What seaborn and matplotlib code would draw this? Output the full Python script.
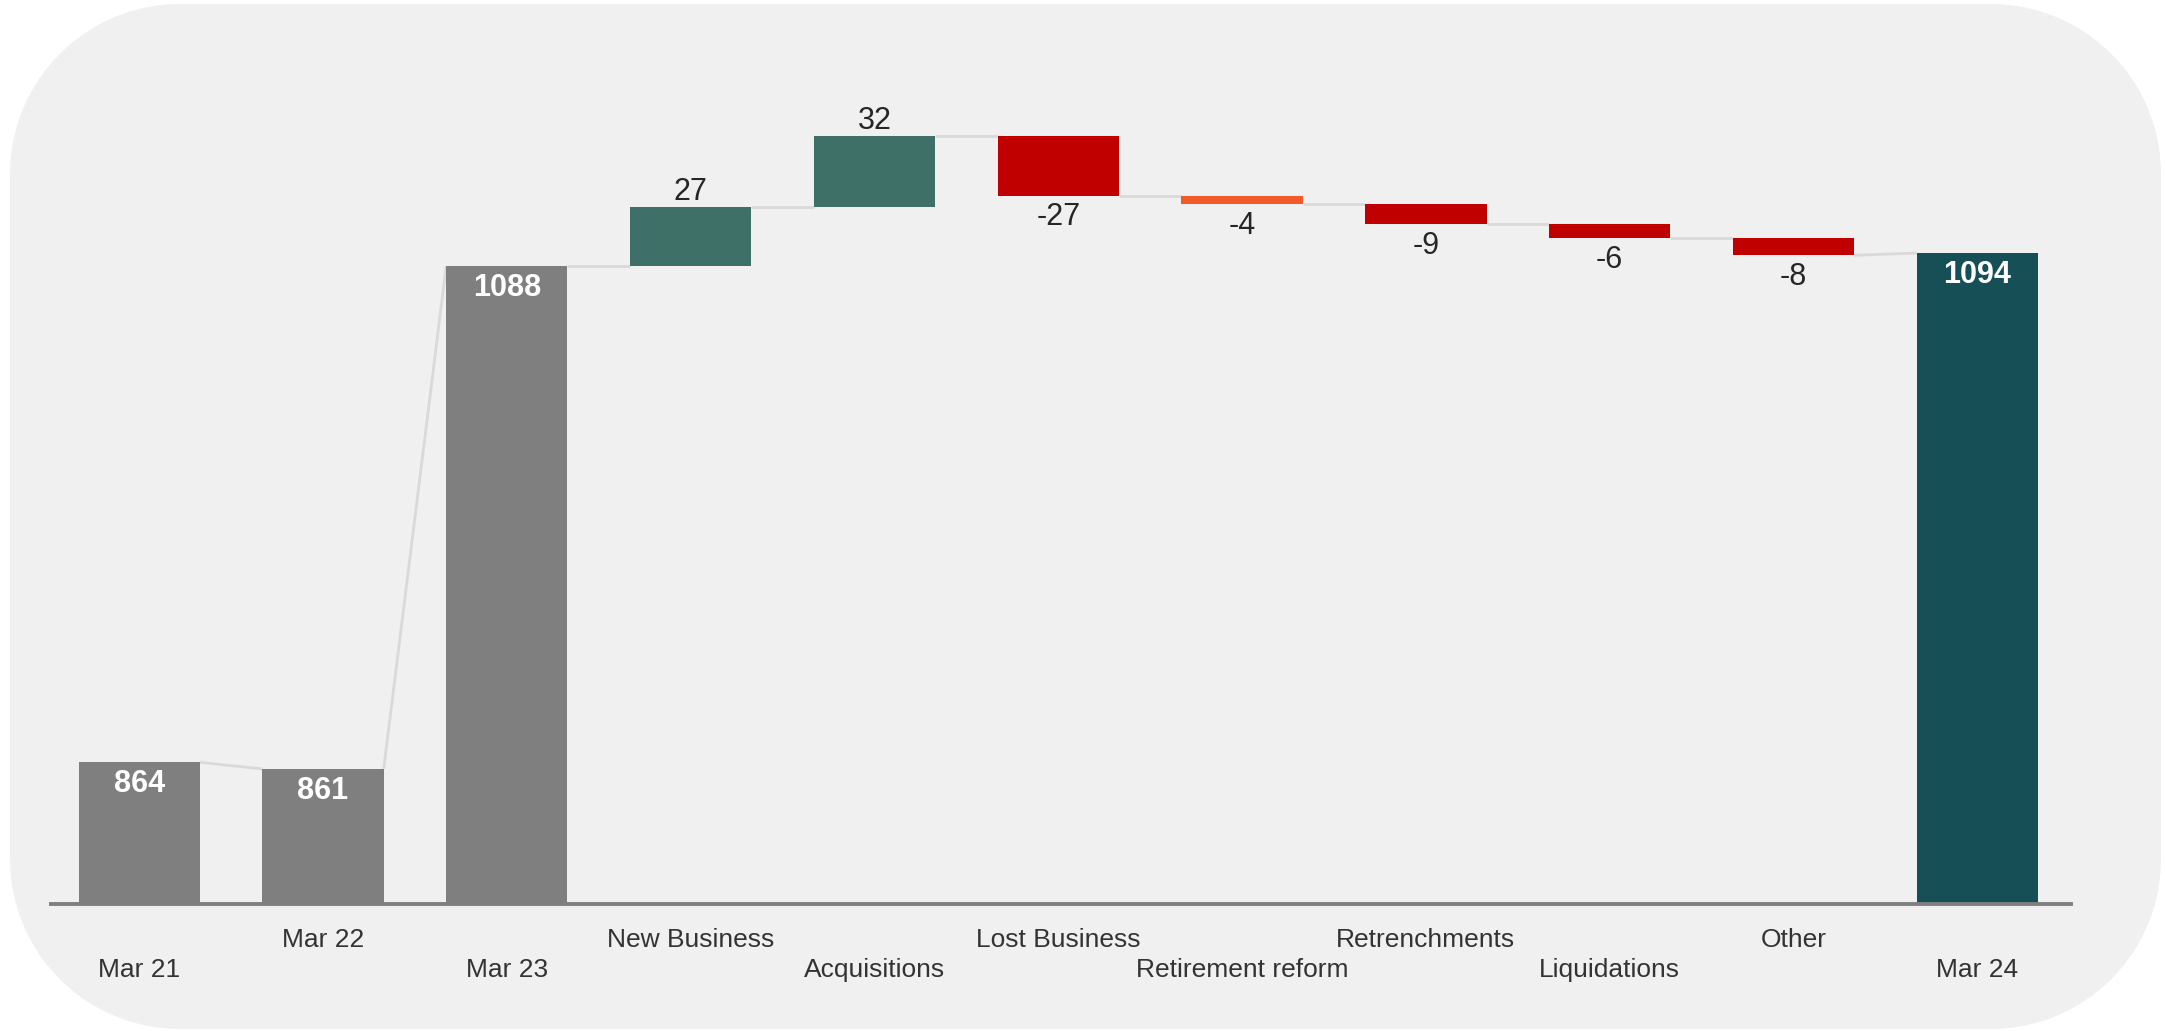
import numpy as np
import pandas as pd
import matplotlib
matplotlib.use("Agg")
import matplotlib.pyplot as plt
import seaborn as sns
from matplotlib.patches import Polygon
from matplotlib.transforms import IdentityTransform

# ---------------- data ----------------
categories = ["Mar 21", "Mar 22", "Mar 23", "New Business", "Acquisitions",
              "Lost Business", "Retirement reform", "Retrenchments",
              "Liquidations", "Other", "Mar 24"]
values = [864, 861, 1088, 27, 32, -27, -4, -9, -6, -8, 1094]
kinds = ["total", "total", "total", "delta", "delta", "delta", "delta",
         "delta", "delta", "delta", "total"]
bar_colors = ["#7f7f7f", "#7f7f7f", "#7f7f7f", "#3e7068", "#3e7068",
              "#c00000", "#f15a29", "#c00000", "#c00000", "#c00000", "#174f57"]

# ---------------- waterfall geometry from data ----------------
bottoms, heights, starts, ends = [], [], [], []
level = 0
for v, k in zip(values, kinds):
    if k == "total":
        bottoms.append(0)
        heights.append(v)
        starts.append(v)
        ends.append(v)
        level = v
    else:
        bottoms.append(level)
        heights.append(v)
        starts.append(level)
        level = level + v
        ends.append(level)

sns.set_theme(style="white")
plt.rcParams['font.family'] = ['Liberation Sans', 'DejaVu Sans']

W, H = 2165, 1031
fig = plt.figure(figsize=(W / 100, H / 100), dpi=100, facecolor="white")


def rounded_rect(x0, y0, x1, y1, r, n=40):
    pts = []
    corners = [(x1 - r, y1 - r, 0), (x0 + r, y1 - r, 90),
               (x0 + r, y0 + r, 180), (x1 - r, y0 + r, 270)]
    for cx, cy, a0 in corners:
        t = np.deg2rad(np.linspace(a0, a0 + 90, n))
        pts.extend(zip(cx + r * np.cos(t), cy + r * np.sin(t)))
    return np.array(pts)


bg = Polygon(rounded_rect(10, 2, 2161, 1027, 170), closed=True,
             transform=IdentityTransform(), facecolor="#f0f0f0",
             edgecolor="none", zorder=-5)
fig.patches.append(bg)

ax = fig.add_axes([51 / W, (H - 904) / H, 2020 / W, (904 - 60) / H])
ax.set_facecolor("none")
ax.set_zorder(1)

bar_w = 0.66
df = pd.DataFrame({"category": categories, "height": heights})
sns.barplot(data=df, x="category", y="height", order=categories,
            bottom=bottoms, width=bar_w, errorbar=None, linewidth=0,
            color="#7f7f7f", saturation=1, ax=ax, zorder=2)
for patch, c in zip(ax.patches, bar_colors):
    patch.set_facecolor(c)

# connectors
for i in range(len(categories) - 1):
    ax.plot([i + bar_w / 2, i + 1 - bar_w / 2], [ends[i], starts[i + 1]],
            color="#d9d9d9", lw=2, zorder=1, solid_capstyle="butt")

# value labels
for i, (v, k) in enumerate(zip(values, kinds)):
    if k == "total":
        ax.annotate(f"{v}", (i, v), xytext=(0, -5), textcoords="offset points",
                    ha="center", va="top", color="white", fontsize=22,
                    fontweight="bold")
    elif v >= 0:
        ax.annotate(f"{v}", (i, ends[i]), xytext=(0, 0), textcoords="offset points",
                    ha="center", va="bottom", color="#262626", fontsize=22)
    else:
        ax.annotate(f"{v}", (i, ends[i]), xytext=(0, -5), textcoords="offset points",
                    ha="center", va="top", color="#262626", fontsize=22)

ax.set_xlim(-0.48, 10.51)
ax.set_ylim(800, 800 + (904 - 60) / 2.214)

labels = [("\n" + c) if i % 2 == 0 else c for i, c in enumerate(categories)]
ax.set_xticks(range(len(categories)))
ax.set_xticklabels(labels, fontsize=19, color="#333333")
for t in ax.get_xticklabels():
    t.set_linespacing(1.35)
ax.tick_params(axis="x", length=0, pad=17)
ax.set_yticks([])
ax.set_xlabel("")
ax.set_ylabel("")
for s in ["top", "right", "left"]:
    ax.spines[s].set_visible(False)
ax.spines["bottom"].set_color("#7f7f7f")
ax.spines["bottom"].set_linewidth(2.8)

fig.savefig("out.png", dpi=100, facecolor="white")
